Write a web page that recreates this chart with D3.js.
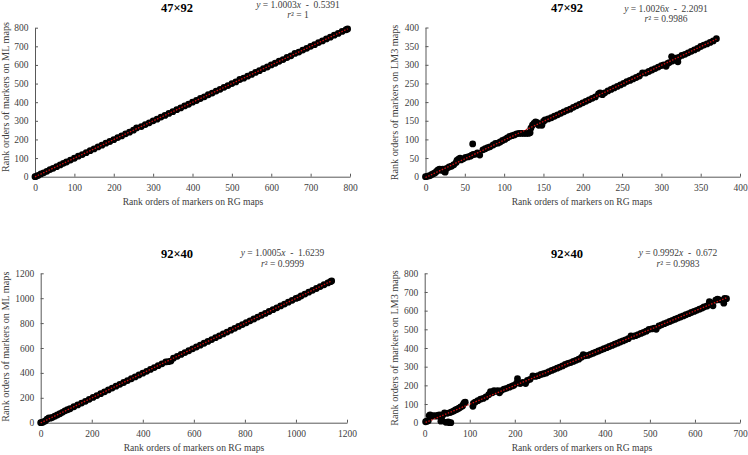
<!DOCTYPE html>
<html>
<head>
<meta charset="utf-8">
<script src="https://cdn.jsdelivr.net/npm/d3@7"></script>
<style>
  html, body { margin: 0; padding: 0; background: #ffffff; }
  svg { display: block; font-family: "Liberation Serif", "Times New Roman", serif; }
</style>
</head>
<body>
<svg id="chart" width="748" height="455"></svg>
<script>
// ---------- data ----------
const panelTitles = ["47×92", "47×92", "92×40", "92×40"];
const xAxisTitle = "Rank orders of markers on RG maps";
const yAxisTitles = [
  "Rank orders of markers on ML maps",
  "Rank orders of markers on LM3 maps",
  "Rank orders of markers on ML maps",
  "Rank orders of markers on LM3 maps"
];
const slopes = [1.0003, 1.0026, 1.0005, 0.9992];
const intercepts = [-0.5391, -2.2091, -1.6239, -0.672];
const slopeLabels = ["1.0003", "1.0026", "1.0005", "0.9992"];
const interceptLabels = ["0.5391", "2.2091", "1.6239", "0.672"];
const r2Labels = ["1", "0.9986", "0.9999", "0.9983"];

const xTicks1 = [0, 100, 200, 300, 400, 500, 600, 700, 800];
const yTicks1 = [0, 100, 200, 300, 400, 500, 600, 700, 800];
const xTicks2 = [0, 50, 100, 150, 200, 250, 300, 350, 400];
const yTicks2 = [0, 50, 100, 150, 200, 250, 300, 350, 400];
const xTicks3 = [0, 200, 400, 600, 800, 1000, 1200];
const yTicks3 = [0, 200, 400, 600, 800, 1000, 1200];
const xTicks4 = [0, 100, 200, 300, 400, 500, 600, 700];
const yTicks4 = [0, 100, 200, 300, 400, 500, 600, 700, 800];

// 47×92 : RG rank vs ML rank
const rgMl47 = [[0,0],[3,2],[8,7],[15,15],[22,21],[30,29],[38,38],[46,45],[55,54],[64,63],[72,72],[80,79],[90,89],[100,99],[110,110],[120,119],[130,129],[140,140],[150,149],[160,160],[170,169],[180,180],[190,189],[200,199],[210,210],[220,219],[230,230],[240,239],[250,250],[258,262],[270,269],[280,280],[290,289],[300,300],[310,309],[320,320],[330,329],[340,340],[350,349],[360,360],[370,369],[380,380],[390,389],[400,400],[410,409],[420,420],[430,429],[440,440],[450,449],[460,460],[470,469],[480,480],[490,489],[500,500],[510,509],[520,522],[530,529],[540,540],[550,549],[560,560],[570,569],[580,580],[590,589],[600,600],[610,609],[620,620],[630,629],[640,640],[650,649],[660,662],[670,669],[680,680],[690,689],[700,700],[710,709],[720,720],[730,729],[740,740],[750,749],[760,760],[770,769],[780,780],[790,789],[794,793]];

// 47×92 : RG rank vs LM3 rank
const rgLm47 = [[0,0],[2,1],[4,2],[6,3],[8,6],[10,8],[12,10],[14,14],[16,18],[18,20],[20,17],[22,20],[24,14],[25,12],[27,22],[30,26],[33,28],[36,32],[39,38],[40,44],[42,47],[44,50],[45,45],[48,48],[51,52],[54,53],[57,55],[59,58],[60,88],[61,60],[63,60],[66,64],[69,58],[73,72],[76,75],[79,78],[82,80],[86,85],[89,89],[92,90],[95,93],[98,97],[101,100],[104,104],[107,108],[110,110],[113,112],[116,115],[119,116],[122,116],[125,116],[128,116],[131,116],[133,118],[134,130],[136,138],[138,143],[140,147],[142,145],[144,138],[146,140],[148,138],[150,148],[152,152],[156,155],[160,158],[164,162],[168,166],[172,170],[176,174],[180,178],[184,181],[188,186],[192,190],[196,194],[200,198],[204,202],[208,206],[212,210],[216,214],[220,222],[222,225],[225,220],[228,225],[232,230],[236,234],[240,238],[244,242],[248,246],[252,250],[256,255],[260,258],[264,262],[268,266],[272,270],[276,278],[280,278],[284,282],[288,286],[292,290],[296,294],[300,298],[303,300],[306,296],[308,304],[310,306],[313,322],[314,310],[318,318],[321,308],[322,320],[326,325],[330,328],[334,332],[338,336],[342,340],[346,344],[350,349],[354,353],[358,356],[362,360],[366,364],[370,370]];

// 92×40 : RG rank vs ML rank
const rgMl92 = [[0,0],[5,2],[10,6],[18,14],[25,28],[32,38],[38,36],[45,42],[55,52],[65,62],[75,72],[85,83],[95,95],[105,104],[115,112],[130,128],[145,143],[160,158],[175,172],[190,188],[205,203],[220,218],[235,233],[250,248],[265,263],[280,278],[295,293],[310,308],[325,323],[340,338],[355,353],[370,368],[385,383],[400,398],[415,413],[430,428],[445,443],[460,458],[475,473],[490,488],[500,490],[510,495],[520,518],[535,533],[550,548],[565,563],[580,578],[595,593],[610,608],[625,623],[640,638],[655,653],[670,668],[685,683],[700,698],[715,713],[730,728],[745,743],[760,758],[775,773],[790,788],[805,803],[820,818],[835,833],[850,848],[865,863],[880,878],[895,893],[910,908],[925,923],[940,938],[955,953],[970,968],[985,983],[1000,998],[1010,1005],[1020,1018],[1035,1033],[1050,1048],[1065,1063],[1080,1078],[1095,1093],[1110,1108],[1125,1123],[1135,1133],[1140,1138]];

// 92×40 : RG rank vs LM3 rank
const rgLm92 = [[2,5],[5,8],[8,10],[10,38],[12,42],[15,35],[18,36],[22,38],[26,35],[30,40],[34,42],[36,8],[38,14],[40,40],[44,52],[47,2],[50,50],[52,4],[55,0],[56,54],[58,0],[60,58],[64,62],[68,68],[72,72],[76,78],[80,84],[84,90],[86,100],[88,108],[90,110],[107,88],[108,104],[112,110],[118,118],[124,126],[130,130],[136,138],[142,150],[146,166],[150,160],[154,172],[158,168],[162,172],[166,160],[170,172],[176,180],[182,184],[188,190],[194,196],[198,200],[204,212],[206,236],[212,210],[218,216],[224,210],[228,226],[234,232],[240,250],[246,248],[252,252],[258,258],[264,262],[270,266],[276,274],[282,280],[288,286],[294,292],[300,298],[306,304],[312,312],[318,318],[324,322],[330,328],[336,334],[342,340],[348,350],[352,365],[356,358],[362,360],[368,366],[374,372],[380,378],[386,384],[392,390],[398,396],[404,402],[410,408],[416,414],[422,420],[428,426],[434,432],[440,438],[446,444],[452,450],[458,465],[462,462],[468,466],[474,472],[480,478],[486,484],[492,490],[498,500],[504,502],[510,506],[514,500],[520,518],[526,524],[532,530],[538,536],[544,542],[550,548],[556,554],[562,560],[568,566],[574,572],[580,578],[586,584],[592,590],[598,596],[604,602],[610,608],[616,614],[620,620],[626,624],[630,630],[632,648],[636,640],[640,626],[646,656],[650,662],[654,658],[664,640],[666,666],[670,664]];

const seriesList = [rgMl47, rgLm47, rgMl92, rgLm92];
const xTickList = [xTicks1, xTicks2, xTicks3, xTicks4];
const yTickList = [yTicks1, yTicks2, yTicks3, yTicks4];

// ---------- layout ----------
const layouts = [
  {x0: 35,    x1: 350, y0: 176.7, y1: 27.7,  title: [177, 11.5],  eq: [298, 8.3],   r2: [298, 17.5],   xl: [193, 205],   yl: [9, 97]},
  {x0: 425.5, x1: 740, y0: 176.7, y1: 27.5,  title: [567, 11.5],  eq: [666, 12.3],  r2: [666, 22],     xl: [582, 205],   yl: [397.5, 102.5]},
  {x0: 40.7,  x1: 347, y0: 422.7, y1: 273.3, title: [177, 258],   eq: [282.5, 256], r2: [282.5, 266.5], xl: [194, 451],   yl: [9, 346.7]},
  {x0: 424.7, x1: 740, y0: 422.7, y1: 273.3, title: [567, 258],   eq: [678, 256],   r2: [678, 266.5],   xl: [582, 451],   yl: [397.5, 348]}
];

const svg = d3.select("#chart");
const textCol = "#404040";
const axisCol = "#595959";
const fmt = d3.format("d");

layouts.forEach((L, i) => {
  const xt = xTickList[i], yt = yTickList[i];
  const x = d3.scaleLinear().domain([xt[0], xt[xt.length - 1]]).range([L.x0, L.x1]);
  const y = d3.scaleLinear().domain([yt[0], yt[yt.length - 1]]).range([L.y0, L.y1]);
  const g = svg.append("g");

  // axes
  const xa = g.append("g").attr("transform", `translate(0,${L.y0})`)
    .call(d3.axisBottom(x).tickValues(xt).tickFormat(fmt).tickSizeInner(-3).tickSizeOuter(0).tickPadding(7.5));
  const ya = g.append("g").attr("transform", `translate(${L.x0},0)`)
    .call(d3.axisLeft(y).tickValues(yt).tickFormat(fmt).tickSizeInner(-3).tickSizeOuter(0).tickPadding(6.5));
  [xa, ya].forEach(a => {
    a.select(".domain").attr("stroke", axisCol).attr("stroke-width", 1);
    a.selectAll(".tick line").attr("stroke", axisCol);
    a.selectAll(".tick text").attr("fill", textCol).style("font-size", "9.5px")
      .style("font-family", "'Liberation Serif', 'Times New Roman', serif");
  });

  // points
  const data = seriesList[i];
  g.append("g").selectAll("circle").data(data).join("circle")
    .attr("cx", d => x(d[0])).attr("cy", d => y(d[1])).attr("r", 3.4)
    .attr("fill", "#000000");

  // trend line
  const xs = d3.extent(data, d => d[0]);
  g.append("line")
    .attr("x1", x(xs[0])).attr("y1", y(slopes[i] * xs[0] + intercepts[i]))
    .attr("x2", x(xs[1])).attr("y2", y(slopes[i] * xs[1] + intercepts[i]))
    .attr("stroke", "#d01010").attr("stroke-width", 1.3).attr("stroke-dasharray", "1.5,1.5");

  // title
  g.append("text").attr("x", L.title[0]).attr("y", L.title[1]).attr("text-anchor", "middle")
    .style("font-size", "12.5px").style("font-weight", "bold").attr("fill", "#000")
    .text(panelTitles[i]);

  // equation
  const eq = g.append("text").attr("x", L.eq[0]).attr("y", L.eq[1]).attr("text-anchor", "middle")
    .style("font-size", "9.5px").attr("fill", textCol).attr("xml:space", "preserve");
  eq.append("tspan").style("font-style", "italic").text("y");
  eq.append("tspan").text(" = " + slopeLabels[i]);
  eq.append("tspan").style("font-style", "italic").text("x");
  eq.append("tspan").text("  -  " + interceptLabels[i]);

  const r2 = g.append("text").attr("x", L.r2[0]).attr("y", L.r2[1]).attr("text-anchor", "middle")
    .style("font-size", "9.5px").attr("fill", textCol);
  r2.append("tspan").style("font-style", "italic").text("r");
  r2.append("tspan").text("² = " + r2Labels[i]);

  // axis titles
  g.append("text").attr("x", L.xl[0]).attr("y", L.xl[1]).attr("text-anchor", "middle")
    .style("font-size", "9.6px").attr("fill", textCol).text(xAxisTitle);
  g.append("text").attr("transform", `translate(${L.yl[0]},${L.yl[1]}) rotate(-90)`)
    .attr("text-anchor", "middle").style("font-size", "10.2px").attr("fill", textCol)
    .text(yAxisTitles[i]);
});
</script>
</body>
</html>
